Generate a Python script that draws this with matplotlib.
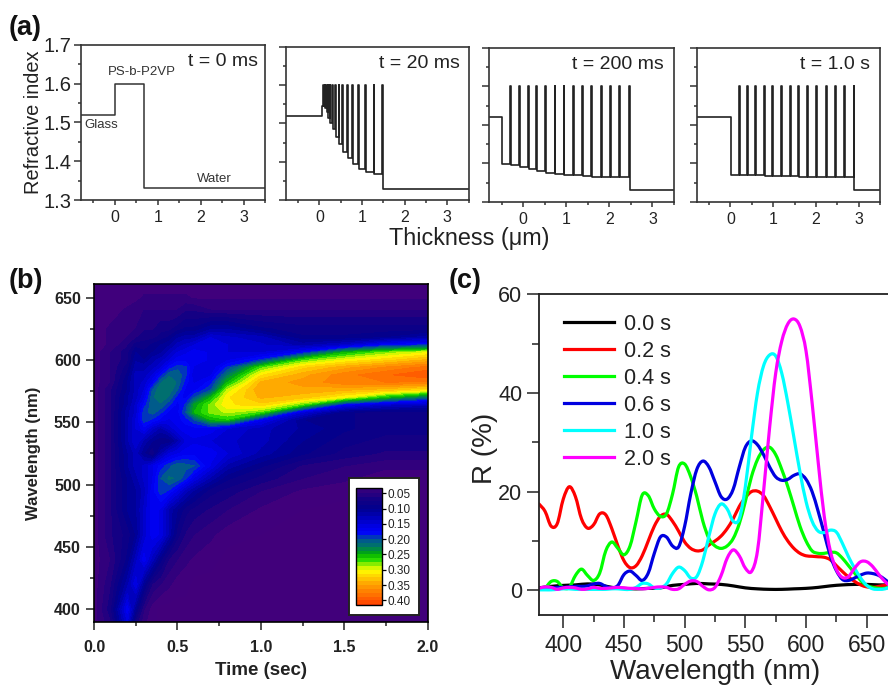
import matplotlib
matplotlib.use("Agg")
import matplotlib.pyplot as plt
from matplotlib.colors import LinearSegmentedColormap
from matplotlib.patches import PathPatch
from matplotlib.path import Path
from matplotlib.ticker import MultipleLocator

plt.rcParams['font.family'] = ['Liberation Sans', 'DejaVu Sans']

W, H = 888, 687

# panel (a): layer profiles, thickness in um
a1_x = [-0.79, 0, 0, 0.68, 0.68, 3.5]
a1_n = [1.52, 1.52, 1.6, 1.6, 1.33, 1.33]

a2_spikes = [0.09, 0.12, 0.15, 0.19, 0.24, 0.30, 0.37, 0.45, 0.54, 0.65, 0.76, 0.90, 1.07, 1.27, 1.46]
a2_floors = [1.545, 1.55, 1.54, 1.53, 1.515, 1.5, 1.485, 1.465, 1.445, 1.425, 1.41, 1.393, 1.382, 1.373, 1.368]
a3_spikes = [-0.295, -0.10, 0.11, 0.31, 0.52, 0.73, 0.94, 1.15, 1.36, 1.58, 1.80, 2.02, 2.23, 2.45]
a3_floors = [1.398, 1.395, 1.39, 1.385, 1.38, 1.376, 1.373, 1.371, 1.369, 1.367, 1.366, 1.365, 1.365, 1.365]
a4_spikes = [0.195, 0.38, 0.58, 0.78, 0.975, 1.18, 1.39, 1.59, 1.80, 2.01, 2.23, 2.45, 2.66, 2.88]
a4_floors = [1.37, 1.37, 1.369, 1.369, 1.368, 1.368, 1.367, 1.367, 1.366, 1.366, 1.365, 1.365, 1.365, 1.365]

# panel (b): reflectance map
b_time = [0, 0.1, 0.2, 0.25, 0.3, 0.35, 0.4, 0.45, 0.5, 0.55, 0.6, 0.7, 0.8, 1.0, 1.25, 1.5, 1.75, 2.0]
b_wave = [390, 400, 420, 440, 460, 480, 495, 505, 515, 525, 535, 545, 552, 558, 564, 570, 576, 582,
          588, 594, 600, 606, 612, 618, 625, 640, 650, 661]
b_refl = [
    [.03, .06, .15, .07, .04, .03, .02, .02, .02, .02, .02, .02, .02, .02, .02, .02, .02, .02],
    [.03, .07, .17, .10, .05, .03, .02, .02, .02, .02, .02, .02, .02, .02, .02, .02, .02, .02],
    [.03, .06, .12, .16, .10, .06, .05, .04, .03, .03, .02, .02, .02, .02, .02, .02, .02, .02],
    [.03, .05, .09, .13, .17, .13, .09, .06, .05, .04, .035, .03, .02, .02, .02, .02, .02, .02],
    [.03, .06, .08, .10, .14, .17, .16, .12, .08, .06, .05, .04, .03, .025, .02, .02, .02, .02],
    [.03, .06, .10, .11, .14, .17, .16, .12, .10, .08, .07, .06, .05, .035, .025, .02, .02, .02],
    [.03, .06, .10, .11, .13, .17, .195, .185, .16, .13, .11, .08, .07, .05, .035, .03, .025, .02],
    [.03, .06, .10, .12, .14, .16, .20, .215, .21, .19, .16, .12, .09, .07, .05, .04, .03, .03],
    [.03, .06, .11, .13, .14, .16, .18, .195, .21, .205, .20, .16, .12, .09, .06, .05, .04, .04],
    [.03, .06, .11, .13, .10, .07, .12, .15, .16, .17, .17, .17, .15, .12, .09, .07, .06, .06],
    [.03, .06, .12, .15, .12, .10, .09, .09, .12, .15, .16, .15, .14, .13, .10, .08, .07, .07],
    [.03, .06, .12, .15, .17, .14, .12, .14, .16, .17, .17, .17, .15, .13, .11, .09, .08, .08],
    [.03, .06, .12, .15, .195, .185, .17, .16, .17, .18, .20, .25, .26, .17, .10, .09, .08, .08],
    [.03, .06, .12, .14, .195, .205, .19, .17, .17, .20, .25, .28, .29, .27, .15, .09, .08, .08],
    [.03, .06, .11, .14, .18, .21, .21, .19, .17, .19, .24, .28, .31, .32, .27, .17, .14, .13],
    [.03, .06, .11, .13, .16, .21, .22, .21, .18, .17, .20, .25, .31, .34, .33, .30, .25, .21],
    [.03, .06, .10, .13, .15, .20, .225, .22, .20, .17, .17, .20, .29, .35, .345, .34, .33, .31],
    [.03, .05, .10, .13, .14, .17, .21, .225, .21, .18, .16, .18, .25, .34, .355, .37, .375, .37],
    [.03, .05, .09, .13, .13, .15, .18, .21, .21, .19, .15, .16, .22, .31, .345, .37, .385, .40],
    [.03, .05, .08, .12, .12, .13, .15, .18, .195, .19, .16, .15, .19, .27, .32, .345, .365, .38],
    [.03, .05, .07, .11, .10, .12, .13, .15, .17, .17, .17, .16, .16, .19, .27, .30, .32, .34],
    [.03, .05, .07, .10, .09, .10, .11, .13, .15, .16, .17, .16, .15, .15, .18, .25, .28, .30],
    [.03, .04, .06, .08, .08, .09, .10, .11, .13, .14, .15, .16, .15, .14, .12, .14, .18, .19],
    [.03, .04, .05, .06, .07, .07, .08, .09, .11, .12, .12, .15, .14, .13, .09, .09, .10, .12],
    [.03, .04, .05, .05, .06, .06, .07, .07, .08, .09, .09, .11, .11, .09, .08, .08, .08, .08],
    [.025, .03, .04, .05, .05, .05, .05, .05, .05, .06, .06, .05, .05, .05, .05, .05, .05, .05],
    [.025, .03, .03, .03, .04, .04, .04, .04, .04, .04, .035, .035, .035, .035, .035, .035, .035, .035],
    [.02, .025, .03, .03, .03, .03, .03, .03, .03, .03, .03, .025, .025, .03, .03, .03, .03, .03],
]
b_cbar_ticks = [0.05, 0.10, 0.15, 0.20, 0.25, 0.30, 0.35, 0.40]

# panel (c): spectra on a 5 nm grid
c_wave = list(range(380, 675, 5))
c_black_wave = list(range(380, 680, 10))
c_black = [.5, .8, 1, 1.1, 1.3, 1.1, .6, .4, .3, .4, .5, 1, 1.2, 1.4, 1.3, 1.2, .9, .5, .3, .2, .2, .3, .4, .6, .9, 1.1, 1.2, 1.2, 1.1, 1.1]
c_red = [17.5, 16, 13, 13.5, 18.5, 21, 19, 14.5, 12.6, 13.3, 15.5, 15.3, 12.5, 9, 6, 4.6, 5, 7, 10, 13, 15, 15.4, 14, 12, 9.8,
         8.5, 8, 8.2, 9.2, 10, 11, 12.5, 14.5, 17, 18.8, 20, 20.1, 19.2, 17, 14.5, 12, 10, 8.5, 7.5, 7, 6.9, 6.8, 6.7, 6.2, 5,
         3.8, 2.7, 1.8, 1.1, .7, .6, .8, 1, 1]
c_green = [.3, .5, 1.8, 1.8, .5, .6, 3, 4.3, 3, 2, 3.5, 8, 9.8, 8.5, 7.2, 9, 14, 19.3, 19.2, 16.5, 15, 15.5, 19.5, 25, 25.6,
           23, 19, 14, 10.5, 9, 8.5, 9, 10.5, 13.5, 18, 23, 26.5, 28.5, 29, 27.5, 24.5, 21, 17, 13, 10, 8, 7.5, 7.5, 7.7, 7.6,
           6.5, 5, 3.5, 2, 1, .6, .4, .4, .8]
c_blue = [.3, .4, .5, .6, .6, .7, .8, .8, .9, 1.3, 1.4, .8, .5, 1, 3.2, 3.9, 3, 2, 3.5, 7.5, 10.8, 10.8, 9, 8.8, 13,
          19.5, 24.5, 26.2, 25, 22, 19, 18.5, 20.5, 25, 29, 30.3, 29.5, 27.5, 25, 23, 22.3, 22.5, 23.3, 23.6, 22.5, 20, 16, 11.5, 7, 4,
          2.2, 2, 2.5, 3.1, 3.5, 3.4, 3, 2.2, 1.2]
c_cyan = [.1, .1, .1, .2, .3, .3, .2, .2, .2, .2, .2, .2, .3, .3, .2, .2, .6, 1.4, 1.3, .5, .5, 1.3, 3.4, 4.7, 4,
          2.5, 2.8, 6, 11, 15.5, 17.5, 16.5, 14, 14.5, 21, 31, 40, 45.5, 47.7, 47.5, 44, 38, 31, 24, 18, 14, 12, 11.7, 12.2, 11.8,
          9.5, 6.8, 4.5, 2.5, 1, .3, .2, .3, .7]
c_magenta = [.4, .7, .6, .2, .5, .6, .5, .2, .3, .6, .4, .4, .5, .6, .5, .4, .4, .3, .4, .6, .7, .6, .2, .3, 1.2,
             1.9, 1.8, .8, .1, .6, 3, 6.5, 8.2, 7, 4.5, 3.8, 8, 20, 33, 44, 50.5, 54, 55, 53.5, 48.5, 38, 26, 15, 8, 4.2,
             2.6, 2.8, 4.5, 5.8, 5.8, 4.8, 3.2, 1.8, .7]


def px_axes(fig, left, top, right, bottom):
    return fig.add_axes([left / W, 1 - bottom / H, (right - left) / W, (bottom - top) / H])


def stack_profile(glass_end, spikes, floors, x0=-0.79, x1=3.5, glass=1.52, water=1.33, top=1.6, w=0.02):
    xs = [x0, glass_end]
    ys = [glass, glass]
    for s, f in zip(spikes, floors):
        xs += [glass_end if s == spikes[0] else xs[-1], s, s, s + w, s + w]
        ys += [f, f, top, top, f]
    xs += [xs[-1], x1]
    ys += [water, water]
    return xs, ys


def style_a(ax, first=False):
    ax.set_xlim(-0.79, 3.5)
    ax.set_ylim(1.3, 1.7)
    ax.xaxis.set_major_locator(MultipleLocator(1))
    ax.xaxis.set_minor_locator(MultipleLocator(0.5))
    ax.yaxis.set_major_locator(MultipleLocator(0.1))
    ax.yaxis.set_minor_locator(MultipleLocator(0.05))
    ax.tick_params(which='major', color='#333333', labelcolor='#222222', width=1.1)
    ax.tick_params(which='minor', color='#333333', width=1.1)
    ax.tick_params(axis='x', which='major', length=3.5, labelsize=11.5, pad=4)
    ax.tick_params(axis='x', which='minor', length=2)
    ax.tick_params(axis='y', which='major', length=5, labelsize=14.5, pad=2)
    ax.tick_params(axis='y', which='minor', length=2.5)
    if not first:
        ax.tick_params(axis='y', labelleft=False)
    for s in ax.spines.values():
        s.set_linewidth(1.2)
        s.set_color('#333333')


def smooth_line(ax, x, y, color, label):
    # bezier through the read points, no points added
    verts = [(x[0], y[0])]
    codes = [Path.MOVETO]
    n = len(x)
    for i in range(n - 1):
        x0, y0 = x[max(i - 1, 0)], y[max(i - 1, 0)]
        x1, y1 = x[i], y[i]
        x2, y2 = x[i + 1], y[i + 1]
        x3, y3 = x[min(i + 2, n - 1)], y[min(i + 2, n - 1)]
        verts += [(x1 + (x2 - x0) / 6, y1 + (y2 - y0) / 6), (x2 - (x3 - x1) / 6, y2 - (y3 - y1) / 6), (x2, y2)]
        codes += [Path.CURVE4, Path.CURVE4, Path.CURVE4]
    ax.add_patch(PathPatch(Path(verts, codes), fill=False, edgecolor=color, lw=2.3, capstyle='round', joinstyle='round'))
    ax.plot([], [], color=color, lw=2.3, label=label)


fig = plt.figure(figsize=(W / 100, H / 100), dpi=100)

# (a)
ax1 = px_axes(fig, 81, 44.7, 265, 200)
ax1.plot(a1_x, a1_n, color='#333333', lw=1.1)
style_a(ax1, True)
ax1.set_ylabel("Refractive index", fontsize=14.4, color='#222222', labelpad=0)
ax1.text(0.96, 0.89, "t = 0 ms", transform=ax1.transAxes, ha='right', va='center', fontsize=14, color='#222222')
ax1.text(0.62, 1.63, "PS-b-P2VP", ha='center', va='center', fontsize=9.5, color='#333333')
ax1.text(-0.32, 1.492, "Glass", ha='center', va='center', fontsize=9.5, color='#333333')
ax1.text(2.32, 1.353, "Water", ha='center', va='center', fontsize=9.5, color='#333333')

ax2 = px_axes(fig, 285.7, 46.7, 468.7, 200)
x, y = stack_profile(0.06, a2_spikes, a2_floors)
ax2.plot(x, y, color='#222222', lw=1.2)
style_a(ax2)
ax2.text(0.95, 0.89, "t = 20 ms", transform=ax2.transAxes, ha='right', va='center', fontsize=14, color='#222222')

ax3 = px_axes(fig, 489, 47.7, 674, 202)
x, y = stack_profile(-0.5, a3_spikes, a3_floors)
ax3.plot(x, y, color='#222222', lw=1.2)
style_a(ax3)
ax3.text(0.945, 0.89, "t = 200 ms", transform=ax3.transAxes, ha='right', va='center', fontsize=14, color='#222222')

ax4 = px_axes(fig, 696.7, 47.7, 880, 202)
x, y = stack_profile(0.02, a4_spikes, a4_floors)
ax4.plot(x, y, color='#222222', lw=1.2)
style_a(ax4)
ax4.text(0.945, 0.89, "t = 1.0 s", transform=ax4.transAxes, ha='right', va='center', fontsize=14, color='#222222')

fig.text(469 / W, 1 - 239 / H, "Thickness (μm)", ha='center', va='center', fontsize=16.8, color='#222222')

# (b)
anchors = [(0, '#42007a'), (.03, '#40007c'), (.05, '#2a007e'), (.07, '#120084'), (.10, '#00008e'), (.15, '#0000d8'),
           (.18, '#0000ff'), (.20, '#00509a'), (.225, '#007a60'), (.25, '#00b000'), (.27, '#30e000'), (.285, '#a0f000'),
           (.30, '#ffff00'), (.35, '#ffa000'), (.425, '#ff3000')]
cmap = LinearSegmentedColormap.from_list('refl', [(v / .425, c) for v, c in anchors])
levels = [i * 0.0125 for i in range(35)]

axb = px_axes(fig, 94, 284.3, 427.7, 621.7)
cf = axb.contourf(b_time, b_wave, b_refl, levels=levels, cmap=cmap, vmin=0, vmax=.425)
axb.set_xlim(0, 2)
axb.set_ylim(390, 660.7)
axb.xaxis.set_major_locator(MultipleLocator(0.5))
axb.xaxis.set_minor_locator(MultipleLocator(0.25))
axb.yaxis.set_major_locator(MultipleLocator(50))
axb.yaxis.set_minor_locator(MultipleLocator(25))
axb.tick_params(which='major', length=6, width=1.1, labelsize=11.5, color='#222222')
axb.tick_params(which='minor', length=3, width=1.1, color='#222222')
axb.tick_params(axis='x', pad=7)
for lab in axb.get_xticklabels() + axb.get_yticklabels():
    lab.set_fontweight('bold')
    lab.set_color('#222222')
for s in axb.spines.values():
    s.set_linewidth(1.2)
axb.set_xlabel("Time (sec)", fontsize=13.5, fontweight='bold', color='#222222', labelpad=5)
axb.set_ylabel("Wavelength (nm)", fontsize=12, fontweight='bold', color='#222222', labelpad=9)

box = px_axes(fig, 349.3, 478, 419.3, 615)
box.set_xticks([])
box.set_yticks([])
for s in box.spines.values():
    s.set_linewidth(1.4)
    s.set_color('#222222')
cax = px_axes(fig, 355.7, 488.3, 381.7, 605)
cb = fig.colorbar(cf, cax=cax, ticks=b_cbar_ticks, drawedges=False)
cax.set_ylim(.415, .034)
cb.outline.set_linewidth(1.0)
cax.set_yticks(b_cbar_ticks)
cax.set_yticklabels(["%.2f" % v for v in b_cbar_ticks])
cax.tick_params(length=3, width=0.9, labelsize=8.5, pad=1, labelcolor='#222222')

# (c)
axc = px_axes(fig, 539, 294.3, 891, 615)
smooth_line(axc, c_black_wave, c_black, 'black', "0.0 s")
smooth_line(axc, c_wave, c_red, '#ff0000', "0.2 s")
smooth_line(axc, c_wave, c_green, '#00ff00', "0.4 s")
smooth_line(axc, c_wave, c_blue, '#0000e0', "0.6 s")
smooth_line(axc, c_wave, c_cyan, '#00ffff', "1.0 s")
smooth_line(axc, c_wave, c_magenta, '#ff00ff', "2.0 s")
axc.set_xlim(380, 670)
axc.set_ylim(-5, 60)
axc.xaxis.set_major_locator(MultipleLocator(50))
axc.xaxis.set_minor_locator(MultipleLocator(25))
axc.yaxis.set_major_locator(MultipleLocator(20))
axc.yaxis.set_minor_locator(MultipleLocator(10))
axc.tick_params(which='major', length=9, width=1.1, color='#222222', labelcolor='#222222')
axc.tick_params(which='minor', length=5, width=1.1, color='#222222')
axc.tick_params(axis='x', labelsize=16.5, pad=5)
axc.tick_params(axis='y', labelsize=15.5, pad=3)
for s in axc.spines.values():
    s.set_linewidth(1.3)
    s.set_color('#222222')
axc.set_xlabel("Wavelength (nm)", fontsize=20, color='#222222', labelpad=1)
axc.set_ylabel("R (%)", fontsize=20, color='#222222', labelpad=0, y=0.52)
axc.legend(loc='upper left', bbox_to_anchor=(0.016, 1.0), frameon=False, fontsize=15.5,
           handlelength=2.33, handletextpad=0.45, labelspacing=0.28, labelcolor='#222222')

# panel letters
fig.text(9 / W, 1 - 28 / H, "(a)", fontsize=19.5, fontweight='bold', ha='left', va='center', color='#111111')
fig.text(9 / W, 1 - 281 / H, "(b)", fontsize=19.5, fontweight='bold', ha='left', va='center', color='#111111')
fig.text(449 / W, 1 - 281 / H, "(c)", fontsize=19.5, fontweight='bold', ha='left', va='center', color='#111111')

fig.savefig("out.png", dpi=100)
